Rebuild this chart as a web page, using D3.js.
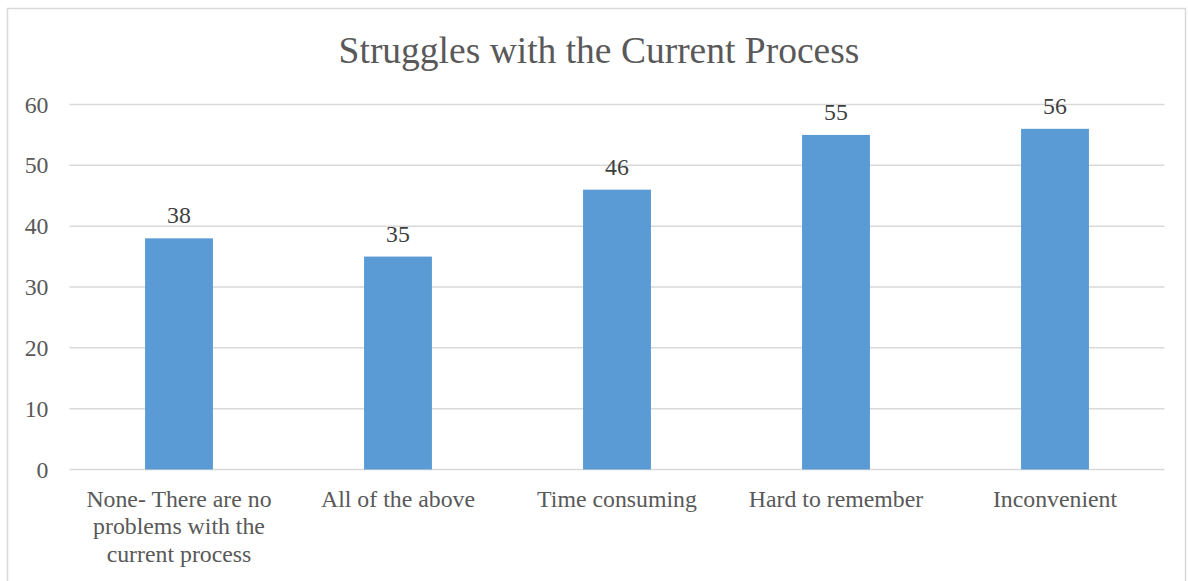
<!DOCTYPE html>
<html>
<head>
<meta charset="utf-8">
<script src="https://cdn.jsdelivr.net/npm/d3@7"></script>
<style>
  html, body { margin: 0; padding: 0; background: #fff; }
  svg { display: block; }
</style>
</head>
<body>
<script>
const categories = [
  "None- There are no problems with the current process",
  "All of the above",
  "Time consuming",
  "Hard to remember",
  "Inconvenient"
];
const values = [38, 35, 46, 55, 56];
const yTicks = [0, 10, 20, 30, 40, 50, 60];
const title = "Struggles with the Current Process";

const W = 1188, H = 581;
const margin = { left: 69.5, right: 23.5, top: 104.5, bottom: 111.5 };
const font = "'Liberation Serif', 'Times New Roman', serif";
const textColor = "#595959";
const fs = 23.8;

const svg = d3.select("body").append("svg")
  .attr("width", W).attr("height", H);

// chart frame
svg.append("rect")
  .attr("x", 7.5).attr("y", 8.5)
  .attr("width", W - 10).attr("height", H + 10)
  .attr("fill", "#fff").attr("stroke", "#d9d9d9").attr("stroke-width", 1.5);

const x = d3.scaleBand()
  .domain(categories)
  .range([margin.left, W - margin.right])
  .paddingInner(0.69).paddingOuter(0.345);

const y = d3.scaleLinear()
  .domain([0, 60])
  .range([H - margin.bottom, margin.top]);

// gridlines
svg.append("g").selectAll("line")
  .data(yTicks)
  .join("line")
  .attr("x1", margin.left).attr("x2", W - margin.right)
  .attr("y1", d => y(d)).attr("y2", d => y(d))
  .attr("stroke", "#d9d9d9").attr("stroke-width", 1.5);

// y axis labels
const yAxis = d3.axisLeft(y).tickValues(yTicks).tickSize(0).tickPadding(21);
const yg = svg.append("g").attr("transform", `translate(${margin.left},0)`).call(yAxis);
yg.select(".domain").remove();
yg.selectAll("text")
  .attr("font-family", font).attr("font-size", fs).attr("fill", textColor);

// bars
svg.append("g").selectAll("rect")
  .data(values)
  .join("rect")
  .attr("x", (d, i) => x(categories[i]))
  .attr("width", x.bandwidth())
  .attr("y", d => y(d))
  .attr("height", d => y(0) - y(d))
  .attr("fill", "#5b9bd5");

// value labels
svg.append("g").selectAll("text")
  .data(values)
  .join("text")
  .attr("x", (d, i) => x(categories[i]) + x.bandwidth() / 2)
  .attr("y", d => y(d) - 15)
  .attr("text-anchor", "middle")
  .attr("font-family", font).attr("font-size", fs).attr("fill", "#404040")
  .text(d => d);

// category labels, wrapped to fit their band
const xAxis = d3.axisBottom(x).tickSize(0).tickPadding(0);
const xg = svg.append("g").attr("transform", `translate(0,${y(0)})`).call(xAxis);
xg.select(".domain").remove();
xg.selectAll("text").remove();
const maxWidth = 200;
const measure = svg.append("text").attr("font-family", font).attr("font-size", fs).attr("visibility", "hidden");
function wrap(str) {
  const words = str.split(" ");
  const lines = [];
  let cur = "";
  words.forEach(w => {
    const test = cur ? cur + " " + w : w;
    measure.text(test);
    if (measure.node().getComputedTextLength() > maxWidth && cur) {
      lines.push(cur);
      cur = w;
    } else cur = test;
  });
  if (cur) lines.push(cur);
  return lines;
}
xg.selectAll(".tick").each(function(d) {
  const t = d3.select(this).append("text")
    .attr("text-anchor", "middle")
    .attr("font-family", font).attr("font-size", fs).attr("fill", textColor);
  wrap(d).forEach((line, i) => {
    t.append("tspan").attr("x", 0).attr("y", 37 + i * 27.5).text(line);
  });
});
measure.remove();

// title
svg.append("text")
  .attr("x", 599)
  .attr("y", 63)
  .attr("text-anchor", "middle")
  .attr("font-family", font).attr("font-size", 37.5).attr("fill", textColor)
  .text(title);
</script>
</body>
</html>
